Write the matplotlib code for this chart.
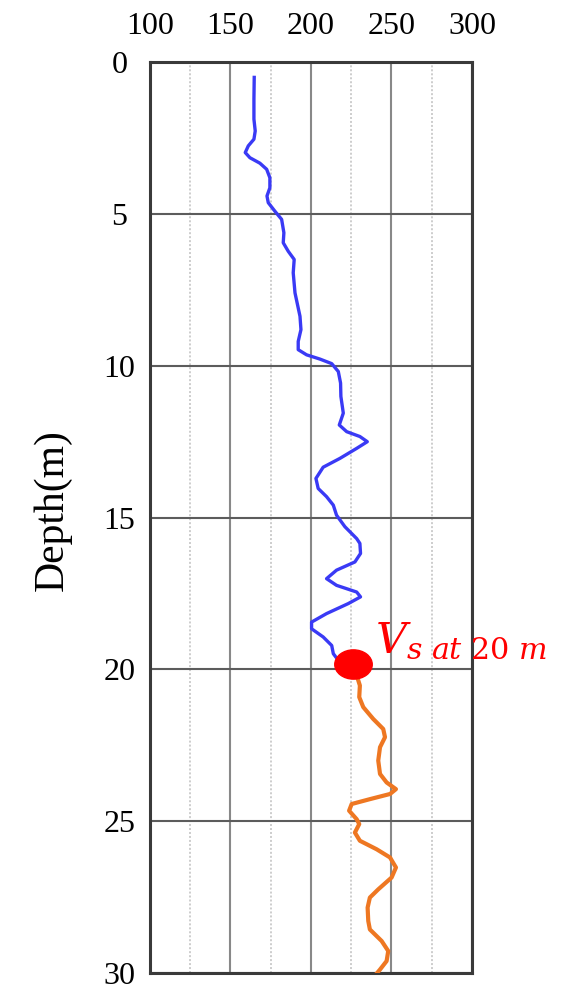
import numpy as np
import matplotlib
matplotlib.use('Agg')
import matplotlib.pyplot as plt
from matplotlib.path import Path
from matplotlib.transforms import Affine2D

# Vs profile above 20 m (blue)
vs_upper = [164.8, 164.6, 164.6, 165.4, 164.6, 161.1, 159.2, 162.1, 168.3, 172.5,
            174.5, 174.5, 172.7, 173.5, 177.6, 181.8, 183.2, 182.8, 185.9, 189.6,
            189.0, 190.1, 193.2, 193.8, 192.1, 192.1, 197.3, 205.6, 212.9, 217.0,
            218.4, 218.6, 220.1, 217.6, 222.2, 230.4, 235.0, 228.4, 218.0, 207.6,
            203.1, 204.5, 209.7, 213.9, 215.9, 221.1, 228.4, 230.4, 230.8, 227.3,
            215.9, 209.7, 215.9, 228.4, 230.8, 223.2, 209.7, 200.4, 200.4, 207.6,
            212.9, 213.9, 217.0, 226.3]
depth_upper = [0.45, 1.22, 1.88, 2.27, 2.54, 2.76, 2.98, 3.15, 3.33, 3.53,
               3.81, 4.14, 4.41, 4.63, 4.91, 5.18, 5.62, 5.95, 6.23, 6.50,
               6.94, 7.60, 8.37, 8.81, 9.20, 9.47, 9.64, 9.78, 9.93, 10.19,
               10.57, 11.01, 11.56, 11.95, 12.17, 12.33, 12.50, 12.72, 13.05, 13.34,
               13.71, 14.04, 14.31, 14.59, 14.92, 15.30, 15.69, 15.85, 16.18, 16.46,
               16.73, 17.01, 17.23, 17.45, 17.61, 17.83, 18.16, 18.44, 18.66, 18.93,
               19.21, 19.48, 19.70, 19.83]

# Vs profile below 20 m (orange)
vs_lower = [226.3, 230.4, 230.0, 232.5, 238.7, 244.9, 246.0, 242.9, 241.8, 242.9,
            247.0, 252.8, 249.1, 236.6, 225.3, 223.7, 228.4, 230.0, 227.3, 230.4,
            240.8, 249.1, 252.8, 250.1, 241.8, 236.6, 235.2, 235.6, 236.6, 243.9,
            248.0, 247.0, 242.9, 239.4]
depth_lower = [19.83, 20.53, 20.91, 21.24, 21.63, 21.96, 22.23, 22.56, 23.00, 23.44,
               23.72, 23.94, 24.10, 24.27, 24.43, 24.65, 24.93, 25.09, 25.37, 25.64,
               25.92, 26.19, 26.52, 26.85, 27.24, 27.51, 27.84, 28.28, 28.56, 28.94,
               29.27, 29.60, 29.88, 30.10]

vs_20 = 226.3
depth_20 = 19.83

x_ticks = [100, 150, 200, 250, 300]
x_minor = [125, 175, 225, 275]
y_ticks = [0, 5, 10, 15, 20, 25, 30]

plt.rcParams['font.family'] = ['Liberation Serif', 'DejaVu Serif']
plt.rcParams['mathtext.fontset'] = 'dejavuserif'

fig = plt.figure(figsize=(5.7, 9.85), dpi=100)
ax = fig.add_axes([0.263, 0.012, 0.565, 0.925])

ax.plot(vs_upper, depth_upper, color='#3a3af5', lw=2.4, solid_joinstyle='round',
        solid_capstyle='butt', zorder=3)
ax.plot(vs_lower, depth_lower, color='#ee7722', lw=3.0, solid_joinstyle='round',
        solid_capstyle='butt', zorder=3)

# slightly wide elliptical dot
ell = Path.unit_circle().transformed(Affine2D().scale(1.0, 0.78))
ax.plot([vs_20], [depth_20], marker=ell, ms=27, color='red', mec='red', ls='none', zorder=4)
ax.text(239.5, 19.44, r'$V_{s\ at\ 20\ m}$', color='red', fontsize=31,
        ha='left', va='baseline', zorder=5)

ax.set_xlim(100, 300)
ax.set_ylim(30, 0)
ax.xaxis.tick_top()
ax.set_xticks(x_ticks)
ax.set_xticks(x_minor, minor=True)
ax.set_yticks(y_ticks)
ax.tick_params(axis='both', which='both', length=0, labelsize=23)
ax.tick_params(axis='x', pad=15)
ax.tick_params(axis='y', pad=22)
for lab in ax.get_yticklabels():
    lab.set_horizontalalignment('center')

ax.grid(True, which='major', axis='x', color='#888888', lw=1.5)
ax.grid(True, which='major', axis='y', color='#5c5c5c', lw=1.5)
ax.grid(True, which='minor', axis='x', color='#c0c0c0', lw=1.1, ls=(0, (1.3, 1.3)))
ax.set_axisbelow(True)

for s in ax.spines.values():
    s.set_color('#3a3a3a')
    s.set_linewidth(2.2)

ax.set_ylabel('Depth(m)', fontsize=30)
ax.yaxis.set_label_coords(-0.242, 0.508)

plt.savefig('out.png', dpi=100)
